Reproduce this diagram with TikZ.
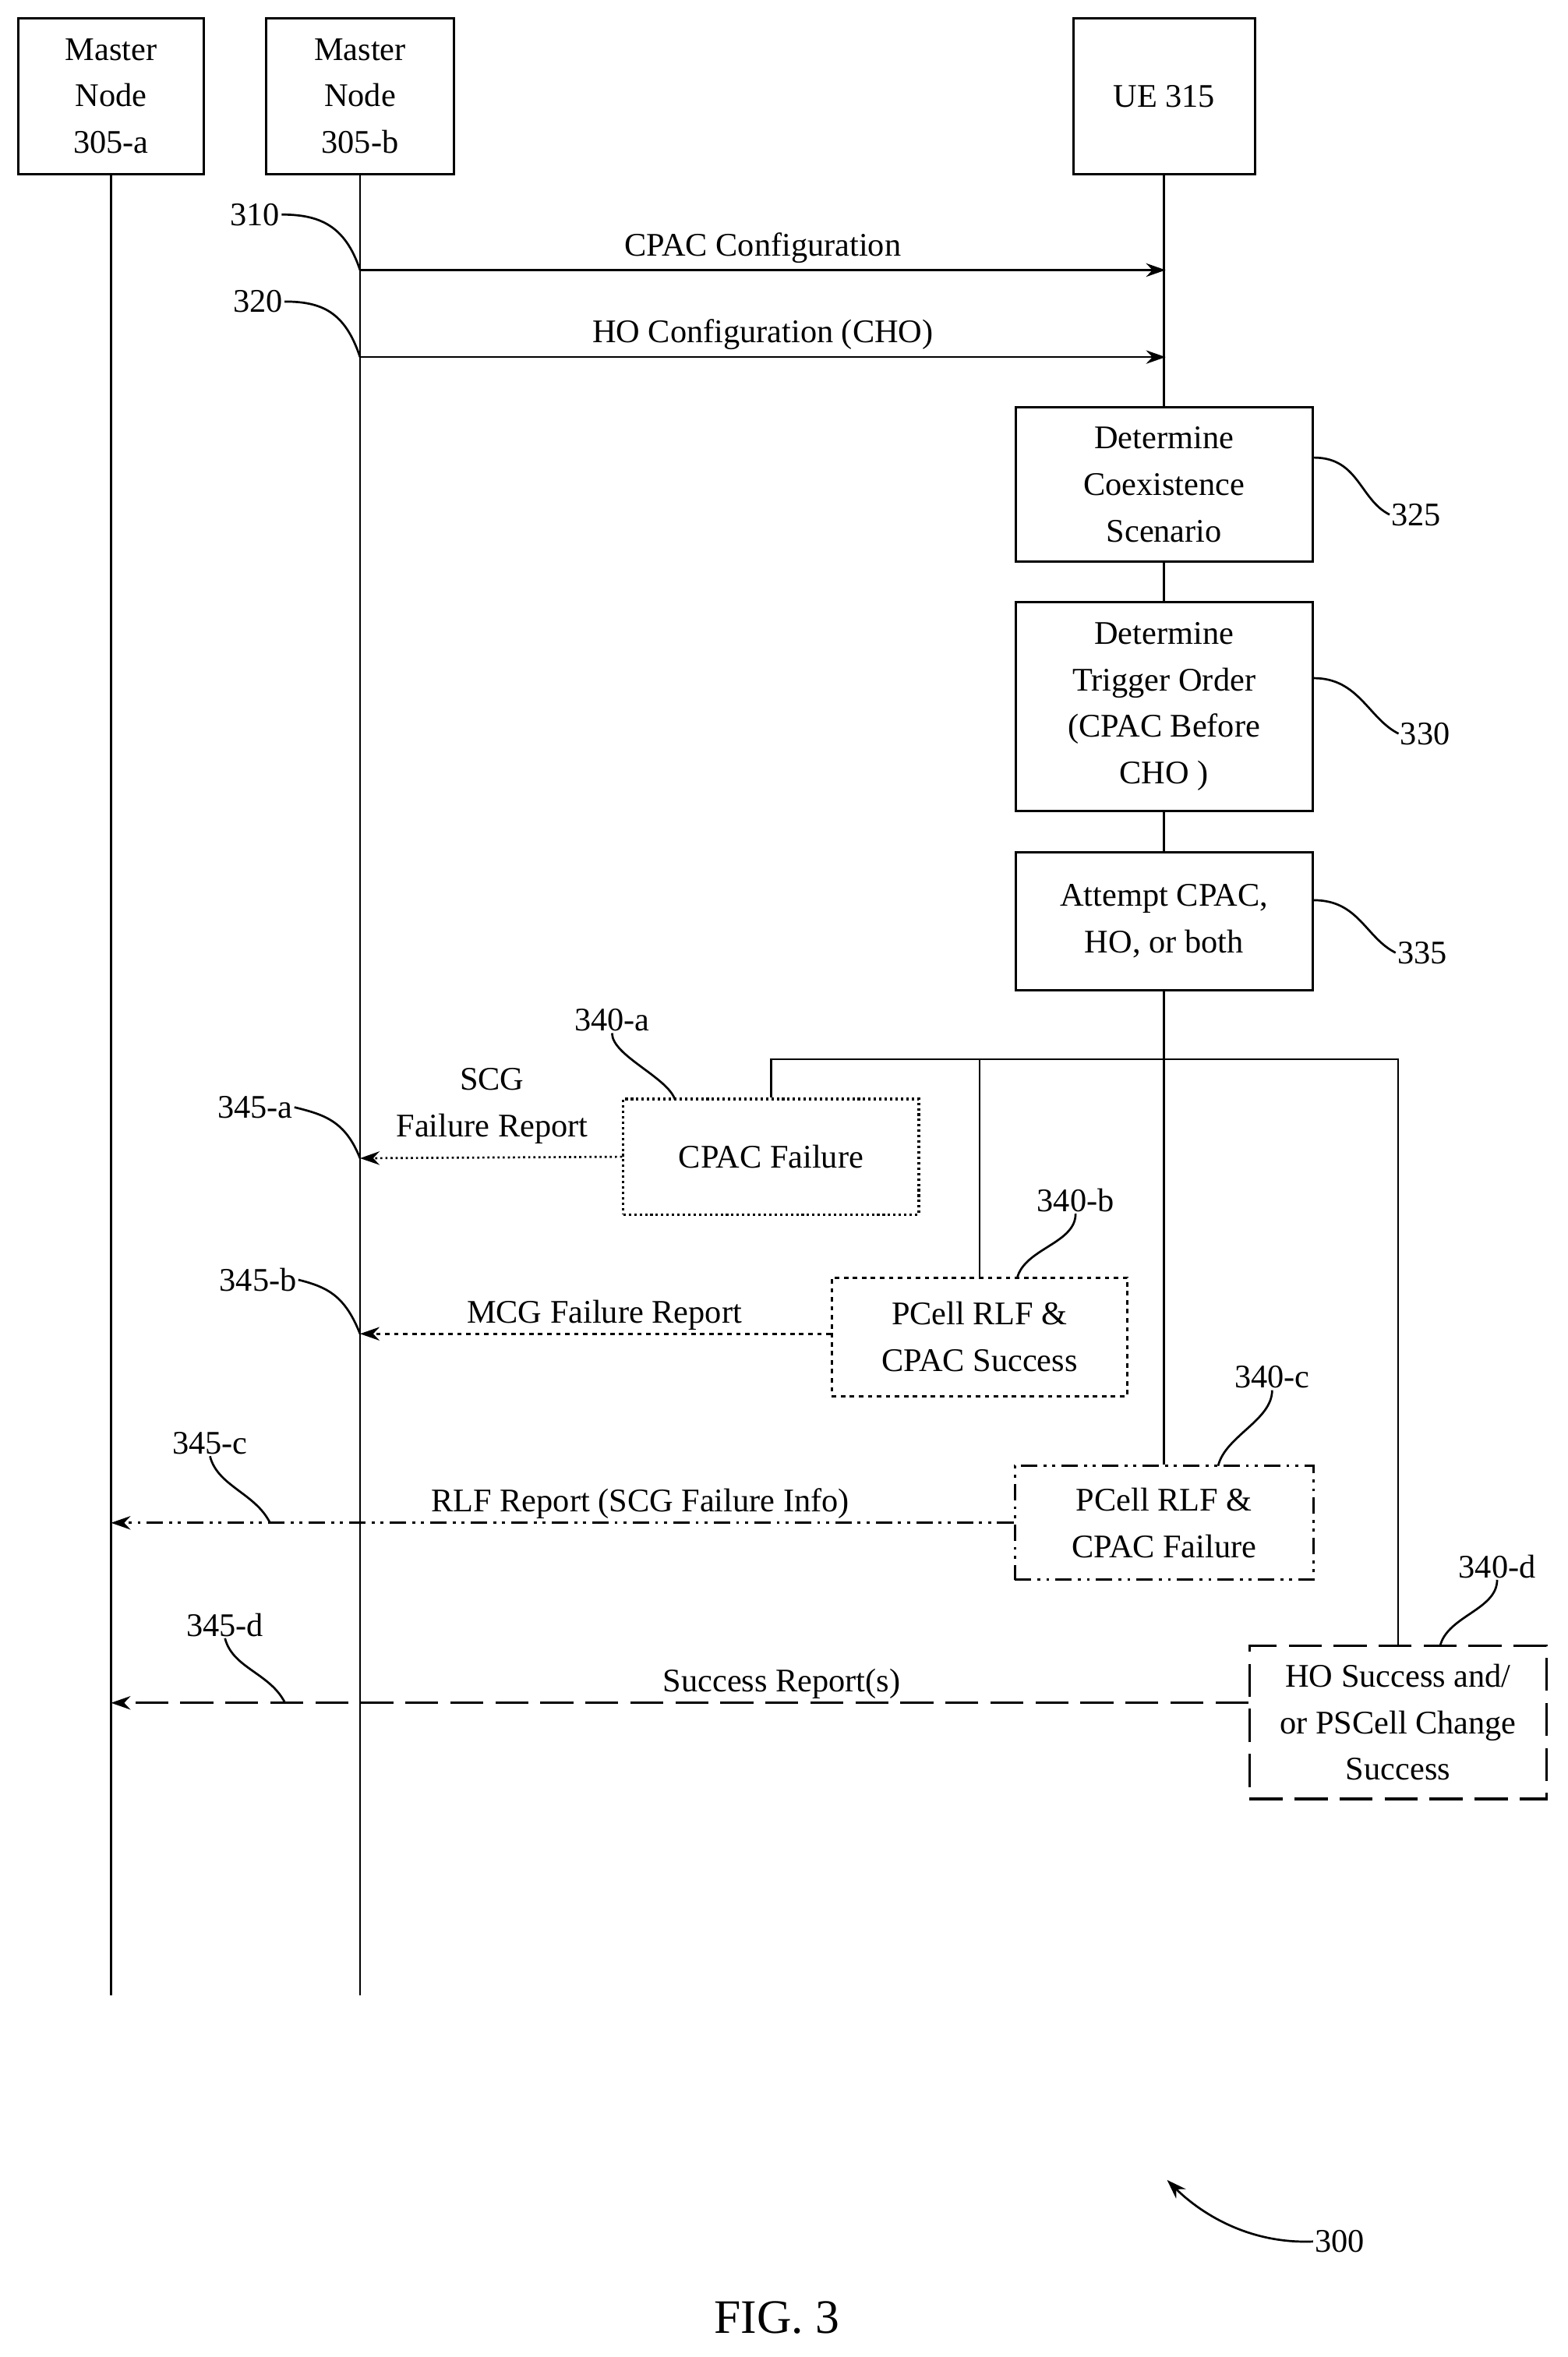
\documentclass[tikz,border=0pt]{standalone}
\usepackage{fontspec}
\setmainfont{Liberation Serif}
\usetikzlibrary{arrows.meta}
\begin{document}
\begin{tikzpicture}[x=1pt,y=-1pt,
 box/.style={draw,line width=1.6pt,align=center,inner sep=0pt,font=\fontsize{22}{31}\selectfont},
 lbl/.style={font=\fontsize{22}{31}\selectfont,align=center,inner sep=1pt},
 ln/.style={line width=1.4pt},
 arr/.style={ln,-{Stealth[length=13pt,width=9pt]}},
 sq/.style={line width=1.4pt},
 dd/.style={dash pattern=on 11pt off 4pt on 2pt off 4pt on 2pt off 4pt},
 ld/.style={dash pattern=on 22pt off 8pt}]
\useasboundingbox (0,0) rectangle (1045,1571);
% header boxes
\node[box,minimum width=124pt,minimum height=104pt] (ma) at (74,64) {Master\\Node\\305-a};
\node[box,minimum width=125pt,minimum height=104pt] (mb) at (240,64) {Master\\Node\\305-b};
\node[box,minimum width=121pt,minimum height=104pt] (ue) at (776,64) {UE 315};
\coordinate (aend) at (74,1330); \coordinate (bend) at (240,1330);
\draw[ln] (ma.south) -- (aend);
\draw[ln] (mb.south) -- (bend);
% boxes on UE
\node[box,minimum width=198pt,minimum height=103pt] (b325) at (776,323) {Determine\\Coexistence\\Scenario};
\node[box,minimum width=198pt,minimum height=139pt] (b330) at (776,471) {Determine\\Trigger Order\\(CPAC Before\\CHO )};
\node[box,minimum width=198pt,minimum height=92pt] (b335) at (776,614) {Attempt CPAC,\\HO, or both};
\node[box,dotted,minimum width=197pt,minimum height=77pt] (fa) at (514,771) {CPAC Failure};
\node[box,dashed,minimum width=197pt,minimum height=79pt] (fb) at (653,891) {PCell RLF \&\\CPAC Success};
\node[box,dd,minimum width=199pt,minimum height=76pt] (fc) at (776,1015) {PCell RLF \&\\CPAC Failure};
\node[box,ld,minimum width=198pt,minimum height=102pt] (fd) at (932,1148) {HO Success and/\\or PSCell Change\\Success};
\draw[ln] (ue.south) -- (b325.north);
\draw[ln] (b325.south) -- (b330.north);
\draw[ln] (b330.south) -- (b335.north);
\draw[ln] (b335.south) -- (fc.north);
\coordinate (h1) at (514,706); \coordinate (h2) at (653,706); \coordinate (h3) at (932,706);
\draw[ln] (fa.north) -- (h1) -- (h3) -- (fd.north);
\draw[ln] (h2) -- (fb.north);
% messages
\coordinate (s310) at (240,180); \coordinate (e310) at (777,180);
\coordinate (s320) at (240,238); \coordinate (e320) at (777,238);
\draw[arr] (s310) -- node[lbl,above=3pt]{CPAC Configuration} (e310);
\draw[arr] (s320) -- node[lbl,above=3pt]{HO Configuration (CHO)} (e320);
\coordinate (t345a) at (240,772);
\draw[arr,dotted] (fa.west) -- (t345a);
\node[lbl] (scg) at (328,737) {SCG\\Failure Report};
\coordinate (t345b) at (240,889);
\draw[arr,dashed] (fb.west |- t345b) -- node[lbl,above=1pt,xshift=6pt]{MCG Failure Report} (t345b);
\coordinate (t345c) at (74,1015);
\draw[arr,dd] (fc.west) -- node[lbl,above=1pt,xshift=52pt]{RLF Report (SCG Failure Info)} (t345c);
\coordinate (t345d) at (74,1135);
\draw[arr,ld] (fd.west |- t345d) -- node[lbl,above=1pt,xshift=68pt]{Success Report(s)} (t345d);
% reference labels
\node[lbl] (l310) at (170,143) {310};
\draw[sq] (l310.east) .. controls +(25,0) and +(-10,-30) .. (s310);
\node[lbl] (l320) at (172,201) {320};
\draw[sq] (l320.east) .. controls +(25,0) and +(-10,-30) .. (s320);
\node[lbl] (l325) at (944,343) {325};
\draw[sq] (b325.east |- 0,305) .. controls +(30,0) and +(-20,-10) .. (l325.west);
\node[lbl] (l330) at (950,489) {330};
\draw[sq] (b330.east |- 0,452) .. controls +(30,0) and +(-20,-10) .. (l330.west);
\node[lbl] (l335) at (948,635) {335};
\draw[sq] (b335.east |- 0,600) .. controls +(30,0) and +(-20,-10) .. (l335.west);
\node[lbl] (l340a) at (408,680) {340-a};
\coordinate (p340a) at (450,733);
\draw[sq] (l340a.south) .. controls +(0,15) and +(-5,-15) .. (p340a);
\node[lbl] (l340b) at (717,800) {340-b};
\coordinate (p340b) at (678,852);
\draw[sq] (l340b.south) .. controls +(0,20) and +(5,-20) .. (p340b);
\node[lbl] (l340c) at (848,918) {340-c};
\coordinate (p340c) at (812,977);
\draw[sq] (l340c.south) .. controls +(0,20) and +(5,-20) .. (p340c);
\node[lbl] (l340d) at (998,1044) {340-d};
\coordinate (p340d) at (960,1097);
\draw[sq] (l340d.south) .. controls +(0,20) and +(5,-20) .. (p340d);
\node[lbl] (l345a) at (170,738) {345-a};
\draw[sq] (l345a.east) .. controls +(20,5) and +(-10,-25) .. (t345a);
\node[lbl] (l345b) at (172,853) {345-b};
\draw[sq] (l345b.east) .. controls +(20,5) and +(-10,-25) .. (t345b);
\node[lbl] (l345c) at (140,962) {345-c};
\coordinate (p345c) at (180,1015);
\draw[sq] (l345c.south) .. controls +(5,20) and +(-10,-20) .. (p345c);
\node[lbl] (l345d) at (150,1083) {345-d};
\coordinate (p345d) at (190,1135);
\draw[sq] (l345d.south) .. controls +(5,20) and +(-10,-20) .. (p345d);
% figure label
\node[lbl] (l300) at (893,1494) {300};
\coordinate (p300) at (778,1453);
\draw[arr] (l300.west) .. controls +(-50,2) and +(15,15) .. (p300);
\node[font=\fontsize{32}{36}\selectfont] (fig) at (518,1545) {FIG. 3};
\end{tikzpicture}
\end{document}
